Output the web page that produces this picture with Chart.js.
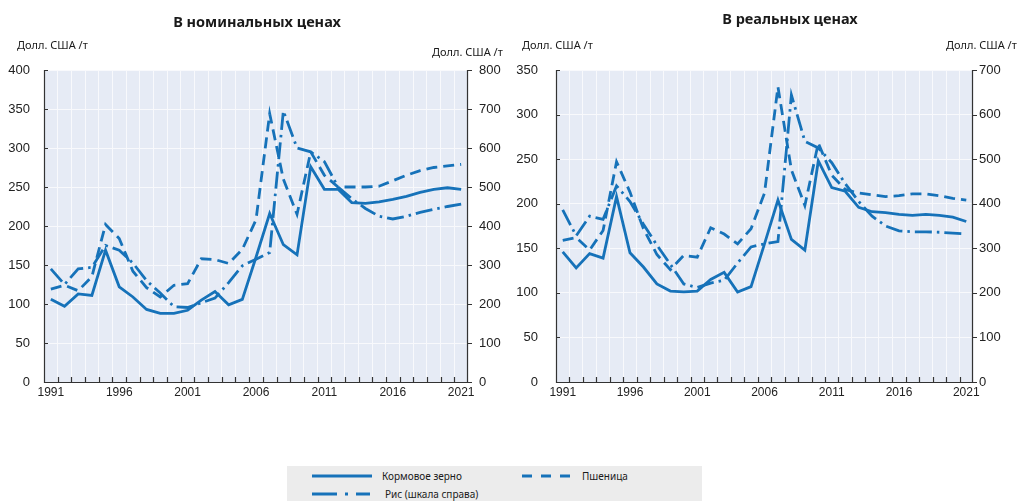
<!DOCTYPE html>
<html>
<head>
<meta charset="utf-8">
<script src="https://cdn.jsdelivr.net/npm/chart.js@4.4.0/dist/chart.umd.min.js"></script>
<style>
  body { margin: 0; width: 1018px; height: 501px; position: relative; overflow: hidden; background: #fff; font-family: "Noto Sans", sans-serif; color: #1a1a1a; }
  canvas { position: absolute; top: 0; }
  #nominal { left: 0; }
  #real { left: 509px; }
  .t { position: absolute; white-space: nowrap; }
  .title { font-weight: bold; font-size: 14.5px; width: 300px; text-align: center; }
  .unit { font-size: 11px; }
  .legend { position: absolute; left: 287px; top: 466px; width: 415px; height: 35px; background: #ececec; }
  .lg { font-size: 10px; }
  svg { position: absolute; }
</style>
</head>
<body>
<canvas id="nominal" width="509" height="420"></canvas>
<canvas id="real" width="509" height="420"></canvas>

<div class="t title" style="left:107px; top:11px;">В номинальных ценах</div>
<div class="t title" style="left:640px; top:8px;">В реальных ценах</div>
<div class="t unit" style="left:17px; top:37px;">Долл. США /т</div>
<div class="t unit" style="left:432px; top:44px;">Долл. США /т</div>
<div class="t unit" style="left:522px; top:37px;">Долл. США /т</div>
<div class="t unit" style="left:946px; top:37px;">Долл. США /т</div>

<div class="legend"></div>
<svg style="left:312px; top:472px;" width="60" height="8"><line x1="0" y1="4" x2="60" y2="4" stroke="#1672b9" stroke-width="3"/></svg>
<div class="t lg" style="left:382px; top:469px;">Кормовое зерно</div>
<svg style="left:522px; top:472px;" width="52" height="8"><line x1="0" y1="4" x2="52" y2="4" stroke="#1672b9" stroke-width="3" stroke-dasharray="10 9"/></svg>
<div class="t lg" style="left:582px; top:469px;">Пшеница</div>
<svg style="left:312px; top:490px;" width="60" height="8"><line x1="0" y1="4" x2="60" y2="4" stroke="#1672b9" stroke-width="3" stroke-dasharray="25 8 3 8 14"/></svg>
<div class="t lg" style="left:385px; top:487px;">Рис (шкала справа)</div>

<script>
// Data
const years = ["1991","1992","1993","1994","1995","1996","1997","1998","1999","2000",
  "2001","2002","2003","2004","2005","2006","2007","2008","2009","2010",
  "2011","2012","2013","2014","2015","2016","2017","2018","2019","2020","2021"];

// nominal prices (USD/t), rice on right axis
const feedNominal  = [106, 97, 113, 111, 169, 122, 109, 93, 88, 88, 92, 105, 116, 99, 106, 160, 216, 176, 163, 276, 247, 247, 230, 229, 231, 234, 238, 243, 247, 249, 247];
const wheatNominal = [119, 124, 117, 135, 202, 184, 142, 121, 109, 124, 126, 158, 157, 152, 170, 208, 344, 260, 215, 295, 265, 250, 250, 250, 251, 258, 265, 271, 275, 277, 279];
const riceNominal  = [290, 250, 290, 294, 350, 338, 305, 260, 228, 193, 191, 203, 215, 255, 298, 315, 332, 695, 600, 590, 565, 500, 470, 445, 425, 418, 425, 435, 443, 450, 456];

// real prices
const feedReal  = [146, 128, 144, 139, 208, 145, 129, 110, 102, 101, 102, 115, 123, 101, 107, 155, 204, 160, 148, 248, 218, 214, 196, 191, 190, 188, 187, 188, 187, 185, 180];
const wheatReal = [159, 162, 148, 170, 247, 213, 172, 143, 126, 142, 140, 173, 166, 155, 172, 212, 331, 238, 198, 268, 232, 216, 212, 210, 208, 209, 211, 211, 209, 206, 204];
const riceReal  = [386, 328, 372, 365, 440, 405, 354, 307, 264, 220, 212, 222, 228, 267, 303, 310, 315, 644, 540, 525, 492, 445, 405, 372, 350, 339, 337, 337, 336, 334, 332];

const LINE = "#1672b9";
const BG = "#e6ebf5";
const GRID = "#f8f9fc";
const AXIS = "#333";
const TXT = "#222";

// plot background + axis lines and small tick marks
const framePlugin = {
  id: "frame",
  beforeDraw(chart) {
    const { ctx, chartArea: a } = chart;
    ctx.save();
    ctx.fillStyle = BG;
    ctx.fillRect(a.left, a.top, a.width, a.height);
    ctx.restore();
  },
  afterDraw(chart) {
    const { ctx, chartArea: a, scales } = chart;
    const { x, y, y2 } = scales;
    ctx.save();
    ctx.strokeStyle = AXIS;
    ctx.lineWidth = 1.2;
    ctx.beginPath();
    ctx.moveTo(a.left + 0.5, a.top);
    ctx.lineTo(a.left + 0.5, a.bottom + 0.5);
    ctx.lineTo(a.right - 0.5, a.bottom + 0.5);
    ctx.lineTo(a.right - 0.5, a.top);
    y.ticks.forEach(t => {
      const p = Math.round(y.getPixelForValue(t.value)) + 0.5;
      ctx.moveTo(a.left, p); ctx.lineTo(a.left + 4, p);
    });
    y2.ticks.forEach(t => {
      const p = Math.round(y2.getPixelForValue(t.value)) + 0.5;
      ctx.moveTo(a.right, p); ctx.lineTo(a.right + 4, p);
    });
    const step = x.getPixelForValue(1) - x.getPixelForValue(0);
    for (let i = 1; i < years.length; i++) {
      const p = Math.round(x.getPixelForValue(i) - step / 2) + 0.5;
      ctx.moveTo(p, a.bottom); ctx.lineTo(p, a.bottom - 5);
    }
    ctx.stroke();
    ctx.restore();
  }
};

function buildChart(id, feed, wheat, rice, s) {
  const line = { borderColor: LINE, borderWidth: 2.8, pointRadius: 0, tension: 0, fill: false };
  return new Chart(document.getElementById(id), {
    type: "line",
    data: {
      labels: years,
      datasets: [
        { ...line, label: "Кормовое зерно", data: feed, yAxisID: "y" },
        { ...line, label: "Пшеница", data: wheat, yAxisID: "y", borderDash: [11, 6] },
        { ...line, label: "Рис (шкала справа)", data: rice, yAxisID: "y2", borderDash: [17, 5, 2.5, 5] }
      ]
    },
    options: {
      responsive: false,
      animation: false,
      layout: { padding: { top: 70 } },
      plugins: { legend: { display: false }, tooltip: { enabled: false } },
      scales: {
        x: {
          offset: true,
          grid: { offset: true, color: GRID, drawTicks: false },
          border: { display: false },
          ticks: {
            autoSkip: false, maxRotation: 0, padding: 3, color: TXT,
            font: { family: "Liberation Sans", size: 12 },
            callback: (v, i) => (i % 5 === 0 ? years[i] : "")
          },
          afterFit: sc => { sc.height = 38; }
        },
        y: {
          position: "left", min: 0, max: s.leftMax,
          grid: { color: GRID, drawTicks: false },
          border: { display: false },
          ticks: { stepSize: s.leftStep, padding: s.leftPad, color: TXT, font: { family: "Liberation Sans", size: 13 } },
          afterFit: sc => { sc.width = s.leftW; }
        },
        y2: {
          position: "right", min: 0, max: s.rightMax,
          grid: { display: false, drawTicks: false },
          border: { display: false },
          ticks: { stepSize: s.rightStep, padding: s.rightPad, color: TXT, font: { family: "Liberation Sans", size: 13 } },
          afterFit: sc => { sc.width = s.rightW; }
        }
      }
    },
    plugins: [framePlugin]
  });
}

buildChart("nominal", feedNominal, wheatNominal, riceNominal,
  { leftMax: 400, leftStep: 50, rightMax: 800, rightStep: 100, leftW: 44, rightW: 41, leftPad: 14, rightPad: 11 });
buildChart("real", feedReal, wheatReal, riceReal,
  { leftMax: 350, leftStep: 50, rightMax: 700, rightStep: 100, leftW: 47, rightW: 45, leftPad: 18, rightPad: 6 });
</script>
</body>
</html>
